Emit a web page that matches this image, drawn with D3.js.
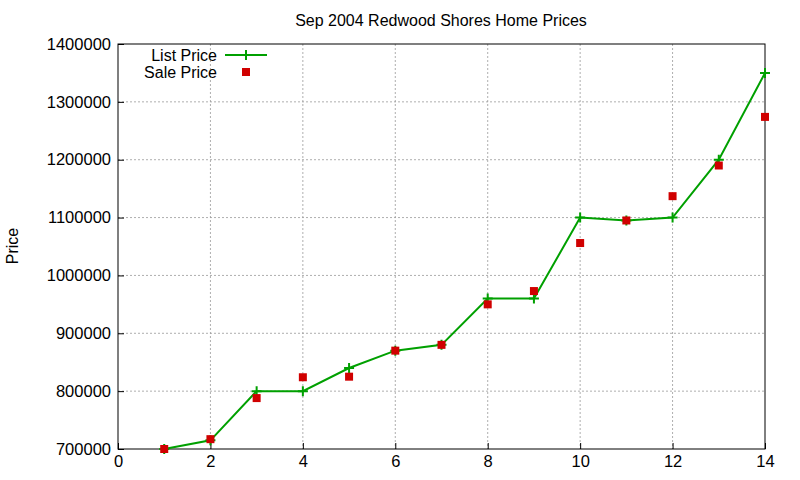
<!DOCTYPE html>
<html><head><meta charset="utf-8">
<script src="https://cdn.jsdelivr.net/npm/d3@7"></script>
<style>body{margin:0;background:#fff}svg{font-family:"Liberation Sans",Arial,sans-serif}</style>
</head><body><svg width="800" height="480"></svg>
<script>
const xs = [1,2,3,4,5,6,7,8,9,10,11,12,13,14];
const listPrice = [700000,715000,800000,800000,840000,870000,880000,960000,960000,1100000,1095000,1100000,1200000,1350000];
const salePrice = [700000,717000,788000,824000,825000,870000,880000,950000,973000,1056000,1095000,1137000,1190000,1274000];
const xTicks = [0,2,4,6,8,10,12,14];
const yTicks = [700000,800000,900000,1000000,1100000,1200000,1300000,1400000];

const svg = d3.select("svg");
const m = {l:118, r:765, t:44, b:449};
const x = d3.scaleLinear().domain([0,14]).range([m.l,m.r]);
const y = d3.scaleLinear().domain([700000,1400000]).range([m.b,m.t]);

// grid
svg.append("g").selectAll("line").data(xTicks.slice(1,-1)).join("line")
  .attr("x1",d=>x(d)).attr("x2",d=>x(d)).attr("y1",m.t).attr("y2",m.b)
  .attr("stroke","#999").attr("stroke-dasharray","2,2").attr("stroke-width",0.8);
svg.append("g").selectAll("line").data(yTicks.slice(1,-1)).join("line")
  .attr("y1",d=>y(d)).attr("y2",d=>y(d)).attr("x1",m.l).attr("x2",m.r)
  .attr("stroke","#999").attr("stroke-dasharray","2,2").attr("stroke-width",0.8);

// axes
const ax = svg.append("g").attr("transform",`translate(0,${m.b})`)
  .call(d3.axisBottom(x).tickValues(xTicks).tickSize(-6).tickPadding(8));
const ay = svg.append("g").attr("transform",`translate(${m.l},0)`)
  .call(d3.axisLeft(y).tickValues(yTicks).tickSize(-6).tickPadding(7).tickFormat(d3.format("d")));
[ax,ay].forEach(g=>{g.select(".domain").remove();g.selectAll("text").attr("font-size",16.5).attr("fill","#000").style("font-family","Liberation Sans, Arial, sans-serif");g.selectAll("line").attr("stroke","#000");});
ax.selectAll("text").attr("dy","0.6em");
svg.append("rect").attr("x",m.l).attr("y",m.t).attr("width",m.r-m.l).attr("height",m.b-m.t)
  .attr("fill","none").attr("stroke","#000");

svg.append("text").attr("x",441).attr("y",26).attr("text-anchor","middle").attr("font-size",16).text("Sep 2004 Redwood Shores Home Prices");
svg.append("text").attr("transform","translate(18,246) rotate(-90)").attr("text-anchor","middle").attr("font-size",16).text("Price");

// list line
const green = "#00a000";
svg.append("path").datum(xs.map((d,i)=>[d,listPrice[i]]))
  .attr("d",d3.line().x(d=>x(d[0])).y(d=>y(d[1])))
  .attr("fill","none").attr("stroke",green).attr("stroke-width",2);
const plus = (g,cx,cy)=>g.append("path").attr("d",`M${cx-5},${cy}H${cx+5}M${cx},${cy-5}V${cy+5}`).attr("stroke",green).attr("stroke-width",2);
const pg = svg.append("g");
xs.forEach((d,i)=>plus(pg,x(d),y(listPrice[i])));

svg.append("g").selectAll("rect").data(xs).join("rect")
  .attr("x",(d)=>x(d)-4).attr("y",(d,i)=>y(salePrice[i])-4).attr("width",8).attr("height",8).attr("fill","#d00000");

// legend
svg.append("text").attr("x",217).attr("y",61).attr("text-anchor","end").attr("font-size",16).text("List Price");
svg.append("line").attr("x1",225).attr("x2",267).attr("y1",55).attr("y2",55).attr("stroke",green).attr("stroke-width",2);
plus(svg,246,55);
svg.append("text").attr("x",217).attr("y",78).attr("text-anchor","end").attr("font-size",16).text("Sale Price");
svg.append("rect").attr("x",242).attr("y",68).attr("width",8).attr("height",8).attr("fill","#d00000");
</script></body></html>
